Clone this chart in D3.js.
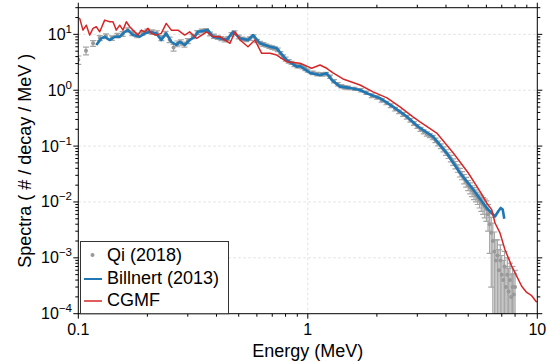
<!DOCTYPE html>
<html>
<head>
<meta charset="utf-8">
<script src="https://cdn.jsdelivr.net/npm/d3@7"></script>
<style>
  body { margin: 0; background: #fff; }
  svg { display: block; font-family: "Liberation Sans", Arial, sans-serif; }
</style>
</head>
<body>
<svg id="chart" width="559" height="362"></svg>
<script>
// Qi (2018): energy (MeV), value, error
const qiE = [0.100, 0.108, 0.116, 0.124, 0.132, 0.140, 0.148, 0.156, 0.164, 0.172, 0.180, 0.190, 0.200, 0.210, 0.220, 0.230, 0.240, 0.250, 0.260, 0.270,
  0.280, 0.290, 0.300, 0.315, 0.330, 0.345, 0.360, 0.375, 0.390, 0.405, 0.420, 0.435, 0.450, 0.465, 0.480, 0.500, 0.520, 0.540, 0.560, 0.580,
  0.600, 0.620, 0.640, 0.660, 0.680, 0.700, 0.720, 0.740, 0.760, 0.780, 0.800, 0.825, 0.850, 0.875, 0.900, 0.925, 0.950, 0.975, 1.00, 1.05,
  1.10, 1.15, 1.20, 1.25, 1.30, 1.35, 1.40, 1.45, 1.50, 1.60, 1.70, 1.80, 1.90, 2.00, 2.10, 2.20, 2.30, 2.40, 2.50, 2.60,
  2.70, 2.80, 2.90, 3.00, 3.10, 3.20, 3.30, 3.40, 3.50, 3.60, 3.70, 3.80, 3.90, 4.00, 4.10, 4.20, 4.30, 4.40, 4.50, 4.60,
  4.70, 4.80, 4.90, 5.00, 5.10, 5.20, 5.30, 5.40, 5.50, 5.60, 5.70, 5.80, 5.90, 6.00, 6.10, 6.20, 6.30, 6.40, 6.50, 6.60,
  6.70, 6.80, 6.90, 7.00, 7.10, 7.20, 7.30, 7.40, 7.50, 7.60, 7.70, 7.80, 7.90, 8.00];
const qiV = [3.5, 5.1, 6.9, 8.6, 9.3, 8.6, 9.5, 10.2, 12.0, 10.5, 9.6, 10.6, 11.4, 11.0, 10.6, 8.6, 10.3, 8.0, 5.8, 6.8,
  7.2, 6.6, 7.6, 9.2, 10.8, 11.5, 11.8, 10.2, 9.3, 8.8, 8.4, 8.0, 8.4, 10.0, 10.8, 9.0, 8.3, 8.0, 8.4, 9.2,
  7.6, 7.0, 6.6, 6.3, 6.0, 5.8, 5.6, 5.3, 4.6, 4.0, 3.6, 3.3, 3.1, 2.85, 2.7, 2.7, 2.6, 2.45, 2.25, 2.05,
  1.95, 1.92, 1.95, 1.75, 1.45, 1.28, 1.18, 1.13, 1.10, 1.06, 1.00, 0.90, 0.80, 0.74, 0.66, 0.59, 0.53, 0.46, 0.41, 0.37,
  0.33, 0.29, 0.255, 0.225, 0.20, 0.18, 0.165, 0.155, 0.143, 0.127, 0.112, 0.100, 0.088, 0.077, 0.068, 0.060, 0.052, 0.046, 0.040, 0.034,
  0.030, 0.026, 0.023, 0.020, 0.018, 0.0160, 0.0145, 0.0132, 0.0120, 0.0108, 0.0098, 0.0090, 0.0082, 0.0075, 0.0060, 0.0040, 0.0028, 0.0020, 0.0013, 0.0009,
  0.0011, 0.0006, 0.0009, 0.0005, 0.0004, 0.0007, 0.0003, 0.0005, 0.00025, 0.0004, 0.0002, 0.0003, 0.00022, 0.0003];
const qiErr = [0.6, 0.8, 0.8, 0.9, 0.9, 0.8, 0.9, 1.0, 1.1, 1.0, 0.9, 1.0, 1.0, 1.0, 1.0, 0.9, 1.0, 0.9, 0.8, 0.8,
  0.8, 0.7, 0.8, 0.8, 0.9, 0.9, 0.9, 0.8, 0.8, 0.7, 0.7, 0.7, 0.7, 0.8, 0.8, 0.7, 0.6, 0.6, 0.6, 0.6,
  0.5, 0.5, 0.5, 0.4, 0.4, 0.4, 0.4, 0.4, 0.3, 0.3, 0.3, 0.25, 0.2, 0.2, 0.2, 0.2, 0.2, 0.2, 0.15, 0.15,
  0.14, 0.14, 0.14, 0.12, 0.1, 0.09, 0.08, 0.08, 0.08, 0.07, 0.07, 0.06, 0.06, 0.05, 0.05, 0.04, 0.04, 0.035, 0.03, 0.03,
  0.025, 0.022, 0.02, 0.018, 0.016, 0.015, 0.014, 0.013, 0.013, 0.012, 0.011, 0.010, 0.009, 0.009, 0.008, 0.008, 0.007, 0.007, 0.006, 0.006,
  0.005, 0.005, 0.0045, 0.004, 0.004, 0.0035, 0.0035, 0.0032, 0.003, 0.003, 0.003, 0.003, 0.003, 0.003, 0.003, 0.0028, 0.0025, 0.0022, 0.0016, 0.0012,
  0.0010, 0.0008, 0.0008, 0.0006, 0.0005, 0.0006, 0.0004, 0.0005, 0.0004, 0.0004, 0.0003, 0.0004, 0.0003, 0.0003];

// Billnert (2013)
const billE = [0.1198, 0.1259, 0.1303, 0.1370, 0.1440, 0.1515, 0.1593, 0.1646, 0.1731, 0.1851, 0.1947, 0.2047, 0.2187, 0.2299, 0.2417, 0.2542, 0.2673, 0.2766, 0.2908, 0.3057,
  0.3216, 0.3324, 0.3674, 0.3863, 0.4143, 0.4433, 0.4722, 0.5065, 0.5488, 0.5771, 0.6191, 0.6843, 0.7320, 0.8091, 0.8946, 0.9247, 1.022, 1.130, 1.209, 1.271,
  1.381, 1.527, 1.689, 1.806, 2.064, 2.350, 2.698, 3.021, 3.512, 4.029, 4.605, 5.262, 6.019, 6.542, 6.761, 6.928, 7.068, 7.182];
const billV = [6.44, 8.48, 9.06, 7.91, 9.06, 9.06, 11.1, 11.9, 9.7, 9.06, 10.4, 11.1, 10.4, 7.91, 10.4, 7.38, 6.44, 7.38, 6.44, 7.91,
  9.06, 11.1, 11.9, 9.06, 8.48, 7.91, 11.1, 8.48, 7.91, 9.7, 6.91, 6.01, 5.62, 3.47, 2.64, 2.72, 2.04, 1.87, 2.01, 1.53,
  1.16, 1.10, 1.01, 0.884, 0.720, 0.509, 0.338, 0.224, 0.148, 0.075, 0.033, 0.0166, 0.0078, 0.0055, 0.0068, 0.0078, 0.0073, 0.0050];

// CGMF
const cgmfE = [0.1000, 0.1014, 0.1048, 0.1084, 0.1121, 0.1159, 0.1198, 0.1240, 0.1303, 0.1370, 0.1416, 0.1464, 0.1515, 0.1566, 0.1619, 0.1675, 0.1731, 0.1820, 0.1882, 0.1947,
  0.2012, 0.2080, 0.2187, 0.2299, 0.2417, 0.2542, 0.2719, 0.2908, 0.3057, 0.3216, 0.3281, 0.3627, 0.3863, 0.4143, 0.4581, 0.4817, 0.5065, 0.5488, 0.5887, 0.6296,
  0.6843, 0.7320, 0.8091, 0.9247, 1.002, 1.040, 1.130, 1.209, 1.288, 1.424, 1.689, 1.924, 2.214, 2.522, 2.873, 3.083, 3.646, 4.305, 5.004, 5.627,
  6.019, 6.329, 6.542, 6.876, 7.230, 7.734, 8.131, 8.551, 8.990, 9.454, 9.94];
const cgmfV = [19.5, 19.3, 11.9, 14.6, 9.7, 12.8, 13.7, 11.1, 18.0, 16.8, 16.8, 11.9, 14.6, 11.9, 16.8, 13.7, 11.9, 9.7, 11.9, 11.1,
  12.8, 10.4, 9.7, 10.4, 15.7, 11.9, 11.9, 9.7, 11.1, 9.06, 8.48, 11.1, 9.06, 9.06, 6.91, 11.1, 7.91, 6.01, 7.91, 4.58,
  4.58, 4.27, 3.24, 3.04, 2.64, 2.47, 2.83, 2.47, 2.04, 1.59, 1.24, 0.933, 0.729, 0.503, 0.334, 0.272, 0.171, 0.075, 0.033, 0.0155,
  0.0096, 0.0073, 0.0042, 0.0028, 0.0014, 0.00071, 0.00047, 0.00031, 0.00024, 0.00021, 0.00016];

const xMajor = [0.1, 1, 10];
const xMinor = [0.2, 0.3, 0.4, 0.5, 0.6, 0.7, 0.8, 0.9, 2, 3, 4, 5, 6, 7, 8, 9];
const yMajorExp = [-4, -3, -2, -1, 0, 1];

(function draw() {
  const svg = d3.select("#chart");
  const pl = 78.3, pr = 537.3, pt = 7.7, pb = 313.7;

  const x = d3.scaleLog().domain([0.1, 10]).range([pl, pr]);
  const y = d3.scaleLog().domain([1e-4, 30]).range([pb, pt]);

  const yMajor = yMajorExp.map(e => Math.pow(10, e));
  const yMinor = [];
  for (const e of yMajorExp) {
    for (let m = 2; m <= 9; m++) {
      const v = m * Math.pow(10, e);
      if (v <= 30) yMinor.push(v);
    }
  }

  // grid
  const grid = svg.append("g").attr("stroke", "#d9d9d9").attr("stroke-width", 0.8).attr("stroke-dasharray", "2.5,2.5");
  grid.selectAll("line.gx").data([1]).join("line").attr("class", "gx")
    .attr("x1", d => x(d)).attr("x2", d => x(d)).attr("y1", pt).attr("y2", pb);
  grid.selectAll("line.gy").data(yMajor.filter(d => d > 1e-4)).join("line").attr("class", "gy")
    .attr("y1", d => y(d)).attr("y2", d => y(d)).attr("x1", pl).attr("x2", pr);

  svg.append("clipPath").attr("id", "plotclip").append("rect")
    .attr("x", pl).attr("y", pt).attr("width", pr - pl).attr("height", pb - pt);

  const plot = svg.append("g").attr("clip-path", "url(#plotclip)");

  // Qi error bars
  const qi = qiE.map((e, i) => ({ e, v: qiV[i], err: qiErr[i] }));
  const eb = plot.append("g").attr("stroke", "#a6a6a6").attr("stroke-width", 1.2);
  qi.forEach(d => {
    const lo = d.v - d.err > 0 ? y(d.v - d.err) : pb + 10;
    const hi = y(d.v + d.err);
    const cx = x(d.e);
    eb.append("line").attr("x1", cx).attr("x2", cx).attr("y1", lo).attr("y2", hi);
    eb.append("line").attr("x1", cx - 3).attr("x2", cx + 3).attr("y1", hi).attr("y2", hi);
    if (d.v - d.err > 0) eb.append("line").attr("x1", cx - 3).attr("x2", cx + 3).attr("y1", lo).attr("y2", lo);
  });
  plot.append("g").selectAll("circle").data(qi).join("circle")
    .attr("cx", d => x(d.e)).attr("cy", d => y(d.v)).attr("r", 2)
    .attr("fill", "#999999");

  const line = d3.line().x(d => x(d[0])).y(d => y(d[1]));

  plot.append("path")
    .datum(billE.map((e, i) => [e, billV[i]]))
    .attr("d", line).attr("fill", "none")
    .attr("stroke", "#1f77b4").attr("stroke-width", 2.6).attr("stroke-linejoin", "round");

  plot.append("path")
    .datum(cgmfE.map((e, i) => [e, cgmfV[i]]))
    .attr("d", line).attr("fill", "none")
    .attr("stroke", "#d62728").attr("stroke-width", 1.5).attr("stroke-linejoin", "round");

  // frame + ticks
  const axes = svg.append("g").attr("stroke", "#000").attr("stroke-width", 1);
  axes.append("rect").attr("x", pl).attr("y", pt).attr("width", pr - pl).attr("height", pb - pt)
    .attr("fill", "none");

  function xTicks(vals, len) {
    vals.forEach(v => {
      axes.append("line").attr("x1", x(v)).attr("x2", x(v)).attr("y1", pb).attr("y2", pb + len);
      axes.append("line").attr("x1", x(v)).attr("x2", x(v)).attr("y1", pt).attr("y2", pt - len);
    });
  }
  function yTicks(vals, len) {
    vals.forEach(v => {
      axes.append("line").attr("y1", y(v)).attr("y2", y(v)).attr("x1", pl).attr("x2", pl - len);
      axes.append("line").attr("y1", y(v)).attr("y2", y(v)).attr("x1", pr).attr("x2", pr + len);
    });
  }
  xTicks(xMajor, 5);
  xTicks(xMinor, 3);
  yTicks(yMajor, 5);
  yTicks(yMinor, 3);

  // tick labels
  svg.append("g").selectAll("text").data(xMajor).join("text")
    .attr("x", d => x(d)).attr("y", 335)
    .attr("text-anchor", "middle").attr("font-size", 16).attr("fill", "#000")
    .text(d => String(d));

  const yl = svg.append("g").selectAll("text").data(yMajorExp).join("text")
    .attr("x", 72).attr("y", d => y(Math.pow(10, d)) + 5.5)
    .attr("text-anchor", "end").attr("font-size", 16).attr("fill", "#000");
  yl.append("tspan").text("10");
  yl.append("tspan").attr("dy", -7).attr("font-size", 11.5)
    .text(d => d < 0 ? "\u2212" + Math.abs(d) : String(d));

  // axis labels
  svg.append("text").attr("x", (pl + pr) / 2).attr("y", 357)
    .attr("text-anchor", "middle").attr("font-size", 18).attr("fill", "#000")
    .text("Energy (MeV)");
  svg.append("text").attr("transform", `translate(31,${(pt + pb) / 2}) rotate(-90)`)
    .attr("text-anchor", "middle").attr("font-size", 18).attr("fill", "#000")
    .text("Spectra ( # / decay / MeV )");

  // legend
  const lg = svg.append("g");
  lg.append("rect").attr("x", 80.5).attr("y", 241.5).attr("width", 148).attr("height", pb - 241.5)
    .attr("fill", "#fff").attr("stroke", "#333").attr("stroke-width", 1);
  lg.append("circle").attr("cx", 92.5).attr("cy", 255).attr("r", 2).attr("fill", "#999999");
  lg.append("line").attr("x1", 84).attr("x2", 102).attr("y1", 279).attr("y2", 279)
    .attr("stroke", "#1f77b4").attr("stroke-width", 2);
  lg.append("line").attr("x1", 84).attr("x2", 102).attr("y1", 301).attr("y2", 301)
    .attr("stroke", "#d62728").attr("stroke-width", 1.5);
  const legendLabels = ["Qi (2018)", "Billnert (2013)", "CGMF"];
  lg.selectAll("text").data(legendLabels).join("text")
    .attr("x", 107).attr("y", (d, i) => 261 + i * 22.5)
    .attr("font-size", 18).attr("fill", "#000")
    .text(d => d);
})();
</script>
</body>
</html>
